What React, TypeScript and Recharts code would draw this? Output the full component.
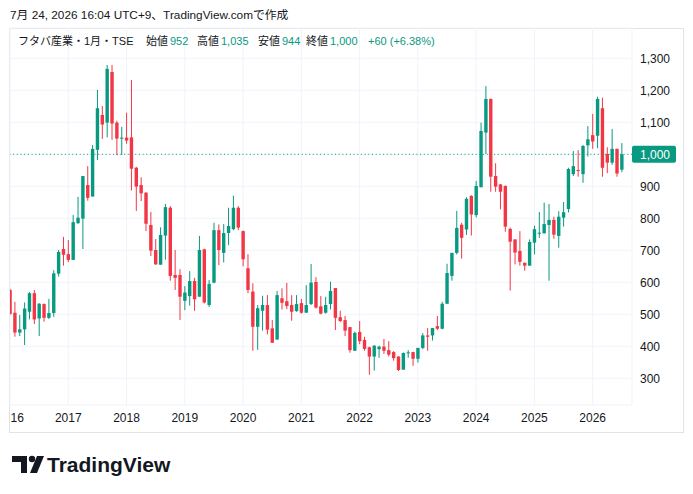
import React from 'react';
import { ComposedChart, Bar, XAxis, YAxis, CartesianGrid, ReferenceLine } from 'recharts';

const months = [
  '2016-01','2016-02','2016-03','2016-04','2016-05','2016-06','2016-07','2016-08','2016-09','2016-10','2016-11','2016-12',
  '2017-01','2017-02','2017-03','2017-04','2017-05','2017-06','2017-07','2017-08','2017-09','2017-10','2017-11','2017-12',
  '2018-01','2018-02','2018-03','2018-04','2018-05','2018-06','2018-07','2018-08','2018-09','2018-10','2018-11','2018-12',
  '2019-01','2019-02','2019-03','2019-04','2019-05','2019-06','2019-07','2019-08','2019-09','2019-10','2019-11','2019-12',
  '2020-01','2020-02','2020-03','2020-04','2020-05','2020-06','2020-07','2020-08','2020-09','2020-10','2020-11','2020-12',
  '2021-01','2021-02','2021-03','2021-04','2021-05','2021-06','2021-07','2021-08','2021-09','2021-10','2021-11','2021-12',
  '2022-01','2022-02','2022-03','2022-04','2022-05','2022-06','2022-07','2022-08','2022-09','2022-10','2022-11','2022-12',
  '2023-01','2023-02','2023-03','2023-04','2023-05','2023-06','2023-07','2023-08','2023-09','2023-10','2023-11','2023-12',
  '2024-01','2024-02','2024-03','2024-04','2024-05','2024-06','2024-07','2024-08','2024-09','2024-10','2024-11','2024-12',
  '2025-01','2025-02','2025-03','2025-04','2025-05','2025-06','2025-07','2025-08','2025-09','2025-10','2025-11','2025-12',
  '2026-01','2026-02','2026-03','2026-04','2026-05','2026-06','2026-07',
];

const opens = [
  576,505,443,453,508,566,487,532,489,504,627,704,
  688,670,785,799,904,868,1014,1123,1099,1257,1099,1049,
  1052,1053,958,904,880,779,701,655,746,833,623,623,
  542,557,604,555,703,529,599,763,692,754,766,833,
  760,644,571,461,511,529,456,421,550,541,529,510,
  535,505,532,601,525,505,532,582,491,482,460,386,
  445,420,397,368,391,399,388,382,368,327,379,382,
  361,395,434,434,463,455,533,620,692,780,765,870,
  810,897,1068,1173,932,906,901,767,734,698,661,652,
  724,752,753,779,795,745,802,829,938,951,938,1028,
  1060,1058,1144,1001,974,1017,952,
];
const highs = [
  580,539,498,537,569,576,535,534,548,638,701,742,
  732,810,867,932,963,1029,1201,1151,1279,1279,1105,1086,
  1130,1232,961,928,882,820,735,772,845,838,701,641,
  588,635,614,745,705,607,786,781,782,833,871,838,
  762,688,597,529,558,560,482,573,581,598,560,560,
  548,591,657,616,557,555,602,582,511,495,460,446,
  479,430,399,404,402,423,416,385,369,381,388,383,
  395,441,457,457,495,539,658,692,823,786,866,872,
  917,1099,1213,1174,972,907,903,771,735,760,662,734,
  777,820,849,845,805,822,851,958,1010,1013,1029,1088,
  1126,1180,1177,1022,1079,1018,1035,
];
const lows = [
  498,430,432,404,484,470,432,477,485,492,618,652,
  663,670,782,704,855,868,982,1048,1053,1045,997,998,
  1033,887,823,854,760,682,655,655,671,605,576,482,
  513,527,511,555,534,523,597,654,662,716,763,763,
  650,566,386,389,449,437,411,421,515,516,480,508,
  502,505,529,518,500,502,515,451,476,432,380,386,
  407,386,311,324,364,376,368,355,323,327,364,339,
  349,391,386,418,451,453,533,605,687,674,748,746,
  803,897,1001,883,883,828,758,574,656,652,636,652,
  687,739,753,605,736,708,774,818,932,930,911,993,
  1017,1019,930,941,967,930,944,
];
const closes = [
  501,443,453,518,566,484,533,489,504,628,695,686,
  670,788,802,932,864,1017,1144,1093,1267,1096,1049,1052,
  1043,955,899,878,783,699,656,748,835,620,614,555,
  568,604,547,701,537,595,763,701,754,776,833,771,
  672,576,461,519,529,452,411,560,536,526,508,532,
  505,529,599,521,502,529,573,489,479,449,388,442,
  416,392,368,402,399,386,374,363,326,379,381,361,
  395,434,430,457,455,533,629,692,770,739,861,812,
  901,1073,1173,930,899,883,774,727,693,664,652,726,
  766,755,782,795,749,805,819,954,963,949,1026,1047,
  1040,1173,958,974,1017,940,1000,
];

const yearTickIdx = [0, 12, 24, 36, 48, 60, 72, 84, 96, 108, 120];
const yearLabels = ['16', '2017', '2018', '2019', '2020', '2021', '2022', '2023', '2024', '2025', '2026'];
const priceTicks = [300, 400, 500, 600, 700, 800, 900, 1000, 1100, 1200, 1300];
const lastClose = 1000;

const GREEN = '#089981';
const RED = '#f23645';
const TEXT = '#131722';
const FONT = "'Liberation Sans', Arial, 'Noto Sans CJK JP', sans-serif";

const rows = months.map((m, i) => ({
  i,
  month: m,
  open: opens[i],
  high: highs[i],
  low: lows[i],
  close: closes[i],
  range: [lows[i], highs[i]],
}));

const Candle = (props: any) => {
  const { x, y, width, height, payload } = props;
  if (x == null || y == null || !payload) return null;
  const { open, close, high, low } = payload;
  const top = Math.min(y, y + height);
  const bot = Math.max(y, y + height);
  const span = high - low;
  const py = (v: number) => (span === 0 ? top : top + ((high - v) / span) * (bot - top));
  const cx = x + (width || 0) / 2;
  const up = close >= open;
  const color = up ? GREEN : RED;
  const bTop = py(Math.max(open, close));
  const bBot = py(Math.min(open, close));
  const bw = 3.4;
  return (
    <g>
      <line x1={cx} x2={cx} y1={top} y2={bot} stroke={color} strokeWidth={1} />
      <rect x={cx - bw / 2} y={bTop} width={bw} height={Math.max(bBot - bTop, 1)} fill={color} />
    </g>
  );
};

const XTick = (props: any) => {
  const { x, y, payload } = props;
  const k = yearTickIdx.indexOf(payload.value);
  const lbl = k >= 0 ? yearLabels[k] : '';
  const first = k === 0;
  return (
    <text
      x={first ? x + 0.5 : x}
      y={y}
      dy="0.71em"
      textAnchor={first ? 'start' : 'middle'}
      fontSize={12}
      fontFamily={FONT}
      fill={TEXT}
    >
      {lbl}
    </text>
  );
};

const YTick = (props: any) => {
  const { x, y, payload } = props;
  const v = payload.value as number;
  const label = v.toLocaleString('en-US');
  if (v === lastClose) {
    return (
      <g>
        <rect x={x - 8} y={y - 8.5} width={44} height={17} rx={2} fill={GREEN} />
        <text x={x} y={y} dy="0.36em" fontSize={12} fontFamily={FONT} fill="#ffffff">
          {label}
        </text>
      </g>
    );
  }
  return (
    <text x={x} y={y} dy="0.36em" fontSize={12} fontFamily={FONT} fill={TEXT}>
      {label}
    </text>
  );
};

const legendParts: { text: string; left: number; color: string }[] = [
  { text: 'フタバ産業・1月・TSE', left: 18, color: TEXT },
  { text: '始値', left: 146, color: TEXT },
  { text: '952', left: 170, color: GREEN },
  { text: '高値', left: 197, color: TEXT },
  { text: '1,035', left: 221, color: GREEN },
  { text: '安値', left: 258, color: TEXT },
  { text: '944', left: 282, color: GREEN },
  { text: '終値', left: 306, color: TEXT },
  { text: '1,000', left: 330, color: GREEN },
  { text: '+60 (+6.38%)', left: 368, color: GREEN },
];

export default function App() {
  return (
    <div
      style={{
        position: 'absolute',
        left: 0,
        top: 0,
        width: 693,
        height: 494,
        background: '#ffffff',
        overflow: 'hidden',
        fontFamily: FONT,
      }}
    >
      <div
        style={{
          position: 'absolute',
          left: 9,
          top: 28,
          width: 673,
          height: 403,
          border: '1px solid #e0e3eb',
        }}
      />
      <div style={{ position: 'absolute', left: 0, top: 0 }}>
        <ComposedChart
          width={693}
          height={494}
          data={rows}
          margin={{ top: 28, right: 10, bottom: 62, left: 10 }}
        >
          <CartesianGrid stroke="#f0f3fa" />
          <XAxis
            dataKey="i"
            type="number"
            domain={[0, 128.1]}
            allowDataOverflow
            ticks={yearTickIdx}
            interval={0}
            tickLine={false}
            axisLine={false}
            height={27}
            tick={<XTick />}
          />
          <YAxis
            orientation="right"
            domain={[216.6, 1394.7]}
            allowDataOverflow
            ticks={priceTicks}
            interval={0}
            width={51}
            tickLine={false}
            axisLine={false}
            tick={<YTick />}
          />
          <ReferenceLine y={lastClose} stroke={GREEN} strokeDasharray="1 2.7" strokeWidth={1} />
          <Bar dataKey="range" shape={<Candle />} isAnimationActive={false} />
        </ComposedChart>
      </div>
      <div
        style={{
          position: 'absolute',
          left: 10,
          top: 7,
          fontSize: 11.8,
          lineHeight: '16px',
          color: TEXT,
          whiteSpace: 'nowrap',
        }}
      >
        7月 24, 2026 16:04 UTC+9、TradingView.comで作成
      </div>
      {legendParts.map((p) => (
        <div
          key={p.left}
          style={{
            position: 'absolute',
            left: p.left,
            top: 34,
            fontSize: 11,
            lineHeight: '14px',
            color: p.color,
            whiteSpace: 'nowrap',
          }}
        >
          {p.text}
        </div>
      ))}
      <svg
        width={200}
        height={40}
        style={{ position: 'absolute', left: 0, top: 447 }}
      >
        <rect x={12} y={9} width={15} height={6} fill={TEXT} />
        <rect x={21} y={9} width={6} height={17} fill={TEXT} />
        <circle cx={32} cy={12} r={3.2} fill={TEXT} />
        <polygon points="37,9 44,9 37,26 30,26" fill={TEXT} />
        <text x={47} y={25} fontSize={21} fontWeight={700} fontFamily={FONT} fill={TEXT}>
          TradingView
        </text>
      </svg>
    </div>
  );
}
